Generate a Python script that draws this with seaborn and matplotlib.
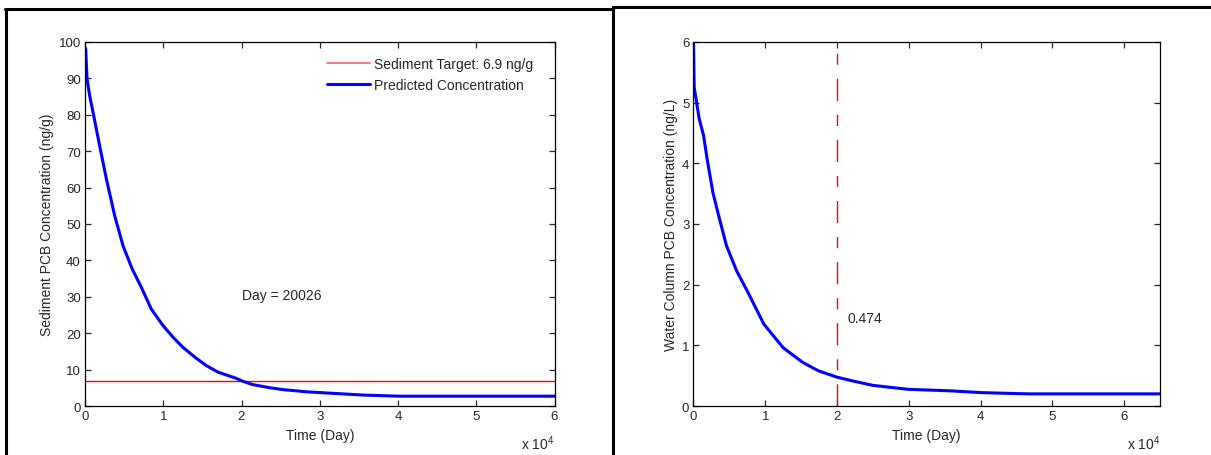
import numpy as np
import pandas as pd
import matplotlib.pyplot as plt
from matplotlib.lines import Line2D
import seaborn as sns

# Sediment panel (days, ng/g)
sed_days = [0, 90, 260, 600, 1110, 1870, 2730, 3790, 4860, 6040, 7200, 8480,
            9970, 11250, 12520, 14230, 15510, 17000, 19340, 20026, 21400, 23400,
            25300, 28300, 30700, 35600, 40000, 60000]
sed_conc = [98.5, 98, 89.8, 85.2, 79.8, 71.5, 62.4, 52.3, 44.0, 37.6, 32.6, 26.6,
            22.1, 18.9, 16.1, 13.1, 11.1, 9.3, 7.6, 6.9, 5.9, 5.1,
            4.5, 3.9, 3.6, 3.0, 2.7, 2.7]
sed_target = 6.9
target_day = 20026

# Water column panel (days, ng/L)
wc_days = [0, 100, 800, 1400, 1900, 2700, 3500, 4600, 6000, 7600, 9800, 12500,
           15200, 17400, 20026, 22300, 25000, 29900, 35800, 40200, 46700, 65000]
wc_conc = [6.0, 5.25, 4.73, 4.46, 4.07, 3.52, 3.14, 2.64, 2.23, 1.87, 1.35, 0.96,
           0.72, 0.58, 0.474, 0.41, 0.34, 0.275, 0.25, 0.22, 0.20, 0.20]
wc_at_target = 0.474

x_ticks = [0, 10000, 20000, 30000, 40000, 50000, 60000]
x_ticklabels = ["0", "1", "2", "3", "4", "5", "6"]

sed_df = pd.DataFrame({"day": sed_days, "conc": sed_conc})
wc_df = pd.DataFrame({"day": wc_days, "conc": wc_conc})

sns.set_style("ticks")
plt.rcParams["font.family"] = ["Liberation Sans", "DejaVu Sans"]
plt.rcParams["mathtext.default"] = "regular"
plt.rcParams["xtick.direction"] = "in"
plt.rcParams["ytick.direction"] = "in"
plt.rcParams["axes.linewidth"] = 0.9
FS = 9.5   # tick labels
LFS = 10   # labels, legend, notes

W, H = 1211, 456
fig = plt.figure(figsize=(W / 100, H / 100), dpi=100)

ax1 = fig.add_axes([85 / W, 1 - 407 / H, (554.5 - 85) / W, (407 - 43) / H])
ax2 = fig.add_axes([693.5 / W, 1 - 407 / H, (1160 - 693.5) / W, (407 - 43) / H])

# left panel
ax1.axhline(sed_target, color="red", linewidth=1.0)
sns.lineplot(data=sed_df, x="day", y="conc", ax=ax1, color="blue", linewidth=2.2)
ax1.set_xlim(0, 60000)
ax1.set_ylim(0, 100)
ax1.set_yticks(np.arange(0, 101, 10))
ax1.set_ylabel("Sediment PCB Concentration (ng/g)", fontsize=LFS, labelpad=3)
ax1.text(target_day, 30.5, "Day = %d" % target_day, fontsize=LFS, va="center", ha="left")
handles = [Line2D([], [], color="#ff6060", linewidth=1.2),
           Line2D([], [], color="blue", linewidth=2.2)]
ax1.legend(handles, ["Sediment Target: 6.9 ng/g", "Predicted Concentration"],
           loc="upper right", bbox_to_anchor=(0.975, 0.985), frameon=False,
           fontsize=LFS, handlelength=3.1, handletextpad=0.3, labelspacing=0.5,
           borderaxespad=0.3)

# right panel
vl = ax2.axvline(target_day, color="red", linewidth=1.0)
vl.set_dashes([16, 10, 8, 10])
sns.lineplot(data=wc_df, x="day", y="conc", ax=ax2, color="blue", linewidth=2.2)
ax2.set_xlim(0, 65000)
ax2.set_ylim(0, 6)
ax2.set_yticks(np.arange(0, 7, 1))
ax2.set_ylabel("Water Column PCB Concentration (ng/L)", fontsize=LFS, labelpad=3)
ax2.text(21400, 1.45, "%.3f" % wc_at_target, fontsize=LFS, va="center", ha="left")

for ax in (ax1, ax2):
    ax.set_xticks(x_ticks)
    ax.set_xticklabels(x_ticklabels)
    ax.set_xlabel("Time (Day)", fontsize=LFS, labelpad=4)
    ax.tick_params(labelsize=FS, length=4, width=0.9, top=True, right=True, pad=3)
    for s in ax.spines.values():
        s.set_visible(True)
        s.set_color("black")
    ax.text(1.0, -0.075, "x 10$^{4}$", transform=ax.transAxes, fontsize=LFS,
            ha="right", va="top")

# panel frames
def px_line(x0, y0, x1, y1):
    fig.add_artist(Line2D([x0 / W, x1 / W], [1 - y0 / H, 1 - y1 / H],
                          transform=fig.transFigure, color="black", linewidth=2.2))

px_line(5, 10, 613, 10)
px_line(6, 10, 6, 456)
px_line(613, 8, 613, 456)
px_line(613, 8, 1211, 8)

fig.savefig("out.png", dpi=100)
